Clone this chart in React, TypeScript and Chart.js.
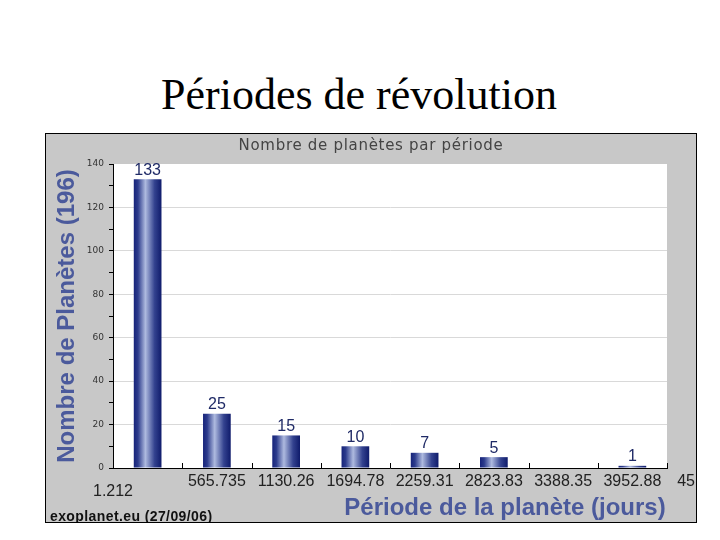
import React, { useEffect, useRef } from "react";
import { Chart, registerables } from "chart.js";

Chart.register(...registerables);

const pageTitle = "Périodes de révolution";
const chartTitle = "Nombre de planètes par période";
const yTitle = "Nombre de Planètes (196)";
const xTitle = "Période de la planète (jours)";
const sourceNote = "exoplanet.eu (27/09/06)";
const binEdges = ["1.212", "565.735", "1130.26", "1694.78", "2259.31", "2823.83", "3388.35", "3952.88", "4517.4"];
const counts = [133, 25, 15, 10, 7, 5, 0, 1];
const yMax = 140;
const yStep = 10;
const yLabelStep = 20;

const SANS = "'Liberation Sans', Arial, sans-serif";
const VERD = "'DejaVu Sans', Verdana, sans-serif";
const BLUE = "#4b5a9c";

const decor = {
  id: "decor",
  beforeDraw(chart: any) {
    const { ctx, chartArea: a, width, height } = chart;
    ctx.save();
    ctx.fillStyle = "#c8c8c8";
    ctx.fillRect(0, 0, width, height);
    ctx.fillStyle = "#ffffff";
    ctx.fillRect(a.left, a.top, a.right - a.left, a.bottom - a.top);
    ctx.restore();
  },
  afterDraw(chart: any) {
    const { ctx, chartArea: a, width } = chart;
    const xs = chart.scales.x;
    const n = counts.length;
    const catW = (xs.right - xs.left) / n;
    ctx.save();
    // inward tick marks on x axis at bin boundaries
    ctx.strokeStyle = "#000";
    ctx.lineWidth = 1;
    for (let i = 1; i <= n; i++) {
      const x = Math.round(xs.left + i * catW) + 0.5;
      ctx.beginPath();
      ctx.moveTo(x, a.bottom);
      ctx.lineTo(x, a.bottom - 5);
      ctx.stroke();
    }
    // value labels
    const meta = chart.getDatasetMeta(0);
    ctx.fillStyle = "#1f2a66";
    ctx.font = `16px ${SANS}`;
    ctx.textAlign = "center";
    ctx.textBaseline = "bottom";
    meta.data.forEach((el: any, i: number) => {
      if (counts[i] > 0) ctx.fillText(String(counts[i]), el.x, el.y - 1);
    });
    // x edge labels
    ctx.fillStyle = "#222";
    ctx.font = `16px ${SANS}`;
    ctx.textBaseline = "middle";
    for (let i = 1; i < binEdges.length; i++) {
      const x = xs.left + (i + 0.5) * catW;
      ctx.fillText(binEdges[i], x, a.bottom + 14);
    }
    ctx.fillText(binEdges[0], xs.left, a.bottom + 24);
    // chart title
    ctx.fillStyle = "#444";
    ctx.font = `15px ${VERD}`;
    (ctx as any).letterSpacing = "0.7px";
    ctx.fillText(chartTitle, width / 2, 12);
    (ctx as any).letterSpacing = "0px";
    // x title
    ctx.fillStyle = BLUE;
    ctx.font = `bold 24px ${SANS}`;
    ctx.fillText(xTitle, 459, a.bottom + 40);
    // y title
    ctx.save();
    ctx.translate(21, (a.top + a.bottom) / 2);
    ctx.rotate(-Math.PI / 2);
    ctx.fillText(yTitle, 0, 0);
    ctx.restore();
    // source
    ctx.fillStyle = "#111";
    ctx.font = `bold 14px ${SANS}`;
    (ctx as any).letterSpacing = "0.4px";
    ctx.textAlign = "left";
    ctx.textBaseline = "alphabetic";
    const sw = ctx.measureText(sourceNote).width;
    const sy = a.bottom + 53;
    ctx.fillText(sourceNote, 4, sy);
    ctx.fillRect(4, sy + 1, sw, 1);
    ctx.restore();
  },
};

export default function App() {
  const ref = useRef<HTMLCanvasElement>(null);
  useEffect(() => {
    if (!ref.current) return;
    const chart = new Chart(ref.current, {
      type: "bar",
      data: {
        labels: binEdges.slice(0, counts.length),
        datasets: [
          {
            data: counts,
            barPercentage: 0.4,
            categoryPercentage: 1,
            borderWidth: 0,
            backgroundColor: (c: any) => {
              const ch = c.chart;
              const xs = ch.scales.x;
              if (!xs || !ch.chartArea) return "#1a2878";
              const catW = (xs.right - xs.left) / counts.length;
              const cx = xs.left + (c.dataIndex + 0.5) * catW;
              const w = catW * 0.4;
              const g = ch.ctx.createLinearGradient(cx - w / 2, 0, cx + w / 2, 0);
              g.addColorStop(0, "#16237a");
              g.addColorStop(0.15, "#2c3b8c");
              g.addColorStop(0.42, "#aebadf");
              g.addColorStop(0.75, "#33428f");
              g.addColorStop(1, "#0f1b6b");
              return g;
            },
          },
        ],
      },
      options: {
        animation: false,
        responsive: true,
        maintainAspectRatio: false,
        layout: { padding: { left: 0, right: 29, top: 30, bottom: 0 } },
        plugins: { legend: { display: false }, tooltip: { enabled: false }, title: { display: false } },
        scales: {
          x: {
            type: "category",
            offset: true,
            grid: { display: false },
            border: { color: "#000", width: 1 },
            ticks: { display: false },
            afterFit: (s: any) => {
              s.height = 54;
            },
          },
          y: {
            min: 0,
            max: yMax,
            border: { color: "#000", width: 1 },
            grid: {
              color: (c: any) =>
                c.tick && c.tick.value % yLabelStep === 0 && c.tick.value !== 0 && c.tick.value !== yMax
                  ? "#d9d9d9"
                  : "rgba(0,0,0,0)",
              tickColor: "#000",
              tickLength: 4,
              drawTicks: true,
            },
            ticks: {
              stepSize: yStep,
              padding: 5,
              color: "#333",
              font: { family: VERD, size: 9 },
              callback: (v: any) => (Number(v) % yLabelStep === 0 ? String(v) : ""),
            },
            afterFit: (s: any) => {
              s.width = 67;
            },
          },
        },
      },
      plugins: [decor],
    } as any);
    return () => chart.destroy();
  }, []);

  return (
    <div style={{ position: "fixed", left: 0, top: 0, width: 720, height: 540, background: "#fff" }}>
      <div
        style={{
          position: "absolute",
          left: 0,
          top: 69,
          width: 718,
          textAlign: "center",
          fontFamily: "'Liberation Serif', 'Times New Roman', serif",
          fontSize: 44,
          color: "#000",
          whiteSpace: "nowrap",
        }}
      >
        {pageTitle}
      </div>
      <div
        style={{
          position: "absolute",
          left: 45,
          top: 133,
          width: 652,
          height: 390,
          boxSizing: "border-box",
          border: "1px solid #000",
        }}
      >
        <div style={{ position: "relative", width: 650, height: 388 }}>
          <canvas ref={ref} />
        </div>
      </div>
    </div>
  );
}
